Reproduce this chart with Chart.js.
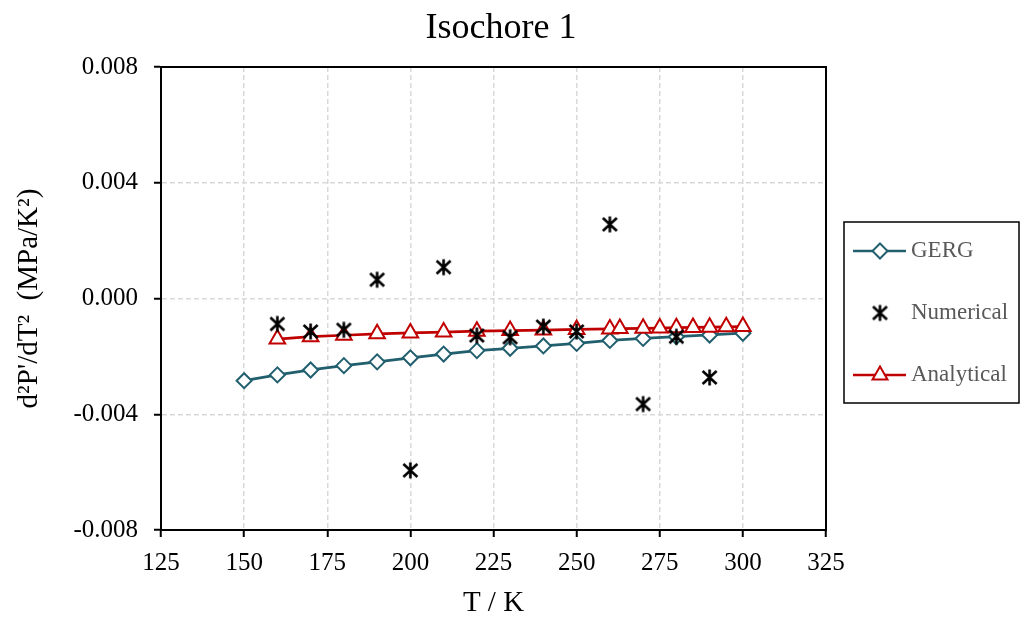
<!DOCTYPE html>
<html>
<head>
<meta charset="utf-8">
<title>Isochore 1</title>
<script src="https://cdn.jsdelivr.net/npm/chart.js@4.4.1/dist/chart.umd.min.js"></script>
<style>
  body { margin: 0; background: #fff; }
  canvas { display: block; }
</style>
</head>
<body>
<canvas id="myChart" width="1021" height="622"></canvas>
<script>
// data
const gergTemps = [150, 160, 170, 180, 190, 200, 210, 220, 230, 240, 250, 260, 270, 280, 290, 300];
const gergValues = [-0.00284, -0.00264, -0.00247, -0.00232, -0.00219, -0.00205, -0.00192, -0.00180,
  -0.00172, -0.00164, -0.00155, -0.00145, -0.00138, -0.00132, -0.00126, -0.00120];

const numericalTemps = [160, 170, 180, 190, 200, 210, 220, 230, 240, 250, 260, 270, 280, 290];
const numericalValues = [-0.00088, -0.00114, -0.00108, 0.00065, -0.00594, 0.00108, -0.00128,
  -0.00134, -0.00097, -0.00114, 0.00256, -0.00365, -0.00132, -0.00273];

const analyticalTemps = [160, 170, 180, 190, 200, 210, 220, 230, 240, 250, 260, 263, 270, 275, 280, 285, 290, 295, 300];
const analyticalValues = [-0.00140, -0.00132, -0.00127, -0.00122, -0.00119, -0.00116, -0.00113, -0.00111,
  -0.00109, -0.00107, -0.00105, -0.00104, -0.00103, -0.00102, -0.00101, -0.00100, -0.00099, -0.00098, -0.00097];

const xTicks = [125, 150, 175, 200, 225, 250, 275, 300, 325];
const yTicks = [-0.008, -0.004, 0.000, 0.004, 0.008];

const gergColor = "#215F6E";
const analyticalColor = "#C00000";
const serif = "'Liberation Serif', 'Times New Roman', serif";

// helper to zip x and y arrays into points
const toPoints = (xs, ys) => xs.map((x, i) => ({ x: x, y: ys[i] }));

// asterisk marker like the spreadsheet one (vertical bar + X)
const makeAsterisk = () => {
  const c = document.createElement("canvas");
  c.width = 19;
  c.height = 19;
  const g = c.getContext("2d");
  g.strokeStyle = "#000";
  g.lineWidth = 2.6;
  g.beginPath();
  g.moveTo(9.5, 1.5); g.lineTo(9.5, 17.5);
  g.moveTo(2.5, 3); g.lineTo(16.5, 16);
  g.moveTo(16.5, 3); g.lineTo(2.5, 16);
  g.stroke();
  return c;
};
const asterisk = makeAsterisk();

// frame round the plot area + title
const framePlugin = {
  id: "frame",
  afterDraw(chart) {
    const { ctx, chartArea } = chart;
    ctx.save();
    ctx.strokeStyle = "#000";
    ctx.lineWidth = 2;
    ctx.strokeRect(chartArea.left, chartArea.top, chartArea.right - chartArea.left, chartArea.bottom - chartArea.top);
    ctx.fillStyle = "#000";
    ctx.font = "36px " + serif;
    ctx.textAlign = "center";
    ctx.textBaseline = "alphabetic";
    ctx.fillText("Isochore 1", 501, 38);
    ctx.restore();
  },
};

// boxed legend on the right, like the original
const legendPlugin = {
  id: "boxLegend",
  afterDraw(chart) {
    const ctx = chart.ctx;
    ctx.save();
    ctx.strokeStyle = "#000";
    ctx.lineWidth = 1.5;
    ctx.strokeRect(844, 222, 175, 181);
    ctx.font = "23px " + serif;
    ctx.fillStyle = "#595959";
    ctx.textAlign = "left";
    ctx.textBaseline = "middle";

    // GERG
    let y = 251;
    ctx.strokeStyle = gergColor;
    ctx.lineWidth = 2.5;
    ctx.beginPath(); ctx.moveTo(853, y); ctx.lineTo(906, y); ctx.stroke();
    ctx.fillStyle = "#fff";
    ctx.lineWidth = 2;
    ctx.beginPath();
    ctx.moveTo(880, y - 7.5); ctx.lineTo(887.5, y); ctx.lineTo(880, y + 7.5); ctx.lineTo(872.5, y); ctx.closePath();
    ctx.fill(); ctx.stroke();
    ctx.fillStyle = "#595959";
    ctx.fillText("GERG", 911, y);

    // Numerical
    y = 313;
    ctx.drawImage(asterisk, 880 - 9.5, y - 9.5);
    ctx.fillText("Numerical", 911, y);

    // Analytical
    y = 375;
    ctx.strokeStyle = analyticalColor;
    ctx.lineWidth = 2.5;
    ctx.beginPath(); ctx.moveTo(853, y); ctx.lineTo(906, y); ctx.stroke();
    ctx.fillStyle = "#fff";
    ctx.lineWidth = 2;
    ctx.beginPath();
    ctx.moveTo(880, y - 8.5); ctx.lineTo(887.5, y + 4.5); ctx.lineTo(872.5, y + 4.5); ctx.closePath();
    ctx.fill(); ctx.stroke();
    ctx.fillStyle = "#595959";
    ctx.fillText("Analytical", 911, y);
    ctx.restore();
  },
};

const config = {
  type: "scatter",
  data: {
    datasets: [
      {
        label: "GERG",
        data: toPoints(gergTemps, gergValues),
        showLine: true,
        borderColor: gergColor,
        borderWidth: 2.75,
        pointStyle: "rectRot",
        pointRadius: 7.5,
        pointBorderWidth: 2,
        pointBackgroundColor: "#fff",
        pointBorderColor: gergColor,
        order: 2,
      },
      {
        label: "Numerical",
        data: toPoints(numericalTemps, numericalValues),
        showLine: false,
        pointStyle: asterisk,
        pointRadius: 9,
        order: 0,
      },
      {
        label: "Analytical",
        data: toPoints(analyticalTemps, analyticalValues),
        showLine: true,
        borderColor: analyticalColor,
        borderWidth: 2.75,
        pointStyle: "triangle",
        pointRadius: 9,
        pointBorderWidth: 2,
        pointBackgroundColor: "#fff",
        pointBorderColor: analyticalColor,
        order: 1,
      },
    ],
  },
  options: {
    responsive: false,
    animation: false,
    layout: { padding: { top: 67, right: 195, left: 0, bottom: 0 } },
    plugins: {
      legend: { display: false },
      tooltip: { enabled: false },
    },
    scales: {
      x: {
        type: "linear",
        min: 125,
        max: 325,
        afterFit: (s) => { s.height = 92; },
        afterBuildTicks: (s) => { s.ticks = xTicks.map((v) => ({ value: v })); },
        ticks: {
          color: "#000",
          font: { family: serif, size: 25 },
          padding: 11,
          maxRotation: 0,
        },
        grid: {
          color: "#d9d9d9",
          lineWidth: 1.5,
          tickColor: "#000",
          tickLength: 7,
          tickWidth: 2,
        },
        border: { color: "#000", width: 2, dash: [5, 3] },
        title: {
          display: true,
          text: "T / K",
          color: "#000",
          font: { family: serif, size: 29 },
          padding: { top: 0, bottom: 1 },
        },
      },
      y: {
        type: "linear",
        min: -0.008,
        max: 0.008,
        afterFit: (s) => { s.width = 161; },
        afterBuildTicks: (s) => { s.ticks = yTicks.map((v) => ({ value: v })); },
        ticks: {
          color: "#000",
          font: { family: serif, size: 25 },
          padding: 16,
          callback: (v) => v.toFixed(3),
        },
        grid: {
          color: "#d9d9d9",
          lineWidth: 1.5,
          tickColor: "#000",
          tickLength: 7,
          tickWidth: 2,
        },
        border: { color: "#000", width: 2, dash: [5, 3] },
        title: {
          display: true,
          text: "d²P'/dT²  (MPa/K²)",
          color: "#000",
          font: { family: serif, size: 29 },
          padding: { top: 12, bottom: 0 },
        },
      },
    },
  },
  plugins: [framePlugin, legendPlugin],
};

const ctx = document.querySelector("#myChart").getContext("2d");
const isochoreChart = new Chart(ctx, config);
</script>
</body>
</html>
